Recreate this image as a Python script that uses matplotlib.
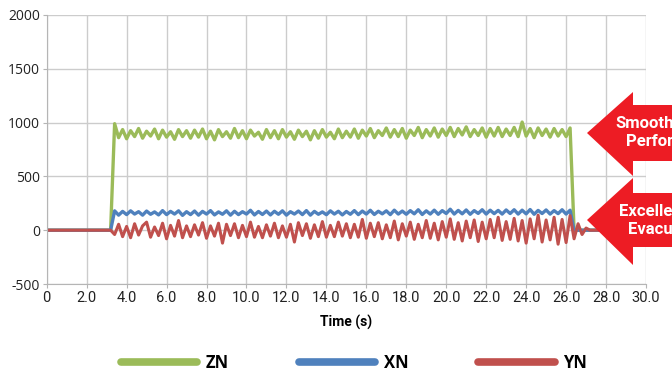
import numpy as np
import matplotlib
matplotlib.use("Agg")
import matplotlib.pyplot as plt
from matplotlib.patches import Polygon
from matplotlib.lines import Line2D

# sampling grid (s)
t = np.arange(0, 30.0001, 0.2)

# ZN: flat, jump ~3.3 s, drop ~26.3 s
zn = ([0] * 17 +
      [990, 860, 935, 850, 925, 870, 945, 855, 920, 875, 940, 850, 930, 865, 915, 845, 935, 870, 925,
       855, 930, 865, 940, 850, 920, 840, 935, 870, 915, 855, 945, 860, 925, 850, 930, 875, 910, 845, 935,
       860, 925, 850, 935, 865, 915, 845, 930, 870, 920, 840, 925, 855, 935, 865, 910, 850, 940, 860, 920,
       865, 940, 855, 930, 875, 945, 860, 925, 880, 950, 865, 935, 870, 945, 855, 930, 880, 955, 860, 935,
       875, 950, 865, 940, 880, 955, 870, 945, 885, 960, 870, 935, 880, 950, 865, 945, 875, 955, 870, 940,
       880, 955, 870, 1005, 875, 945, 860, 950, 880, 940, 865, 945, 875, 935, 870, 950] +
      [0] * 19)

xn = ([0] * 17 +
      [180, 140, 175, 145, 180, 150, 172, 140, 178, 148, 170, 142, 182, 145, 175, 150, 180, 138, 172,
       145, 178, 140, 175, 150, 182, 142, 170, 148, 180, 140, 176, 145, 172, 150, 185, 142, 174, 146, 178,
       142, 176, 148, 180, 140, 172, 150, 178, 145, 182, 140, 175, 148, 170, 144, 180, 150, 176, 142, 174,
       148, 182, 145, 178, 150, 185, 146, 176, 152, 180, 145, 186, 150, 178, 148, 182, 152, 190, 146, 180,
       150, 186, 148, 182, 155, 195, 150, 184, 152, 188, 148, 182, 156, 190, 150, 186, 154, 184, 150, 188,
       155, 190, 150, 186, 152, 192, 148, 184, 155, 188, 150, 182, 154, 190, 150, 186] +
      [0] * 19)

yn = ([0] * 17 +
      [-40, 55, -60, 35, -70, 60, -45, 40, 75, -65, 30, -50, 65, -80, 45, -55, 90, -70, 40,
       -60, 50, -45, 70, -75, 40, -55, 65, -120, 55, -50, 60, -70, 45, -60, 75, -65, 35, -70, 50,
       -55, 65, -70, 40, -65, 55, -110, 70, -50, 60, -75, 50, -60, 80, -65, 45, -60, 75, -55, 60,
       -70, 55, -65, 100, -75, 65, -60, 70, -80, 50, -70, 85, -90, 60, -55, 75, -85, 55, -70, 90,
       -75, 65, -90, 80, -65, 105, -85, 70, -100, 85, -70, 95, -105, 75, -80, 100, -70, 120, -95, 80,
       -85, 110, -100, 90, -120, 105, -80, 140, -110, 95, -90, 120, -130, 100, -115, 135, -80, 60, -40, 20] +
      [0] * 15)

series = ["ZN", "XN", "YN"]
colors = ["#9bbb59", "#4f81bd", "#c0504d"]
widths = [2.4, 2.4, 2.2]
x_ticks = np.arange(0, 30.1, 2)
y_ticks = [-500, 0, 500, 1000, 1500, 2000]

W, H = 672, 376
fig = plt.figure(figsize=(W / 100, H / 100), dpi=100)
ax = fig.add_axes([46.7 / W, 1 - 284 / H, (646 - 46.7) / W, (284 - 15) / H])

for name, vals, c, lw in zip(series, [zn, xn, yn], colors, widths):
    ax.plot(t, vals, color=c, lw=lw, label=name)

ax.set_xlim(0, 30)
ax.set_ylim(-500, 2000)
ax.set_xticks(x_ticks)
ax.set_xticklabels([f"{v:.1f}" if v else "0" for v in x_ticks], family="Roboto", fontsize=10.5)
ax.set_yticks(y_ticks)
ax.set_yticklabels([str(v) for v in y_ticks], family="Open Sans", fontsize=10)
ax.grid(True, color="#cccccc", lw=1)
ax.set_axisbelow(True)
for s in ["top", "right"]:
    ax.spines[s].set_visible(False)
for s in ["left", "bottom"]:
    ax.spines[s].set_color("#b5b5b5")
ax.tick_params(length=3, color="#b5b5b5", labelcolor="#222222", pad=2)
ax.set_xlabel("Time (s)", family="Roboto", fontweight="bold", fontsize=10, labelpad=7)

# legend
handles = [Line2D([], [], color=c, lw=5.5, solid_capstyle="round") for c in colors]
leg = fig.legend(handles, series, loc="center", bbox_to_anchor=(354 / W, 1 - 363 / H),
                 ncol=3, frameon=False, handlelength=4.6, handletextpad=0.5,
                 columnspacing=4.2, prop={"family": "Open Sans", "weight": "bold", "size": 12})

# red arrows (decoration, pixel coords)
def px(pts):
    return [(x / W, 1 - y / H) for x, y in pts]

arrow_red = "#ed1c24"
up = [(587, 133), (633, 92), (633, 105), (680, 105), (680, 161), (633, 161), (633, 176)]
lo = [(587, 220), (633, 178), (633, 193), (680, 193), (680, 247), (633, 247), (633, 265)]
for pts in [up, lo]:
    fig.add_artist(Polygon(px(pts), closed=True, transform=fig.transFigure,
                           facecolor=arrow_red, edgecolor="none", zorder=10))

tfont = dict(family="Roboto", fontweight="bold", fontsize=12,
             color="white", zorder=11, va="center", ha="left")
fig.text(615 / W, 1 - 123 / H, "Smooth", **tfont)
fig.text(626 / W, 1 - 142 / H, "Performance", **tfont)
fig.text(619 / W, 1 - 212 / H, "Excellent", **tfont)
fig.text(628 / W, 1 - 230 / H, "Evacuation", **tfont)

fig.savefig("out.png", dpi=100)
